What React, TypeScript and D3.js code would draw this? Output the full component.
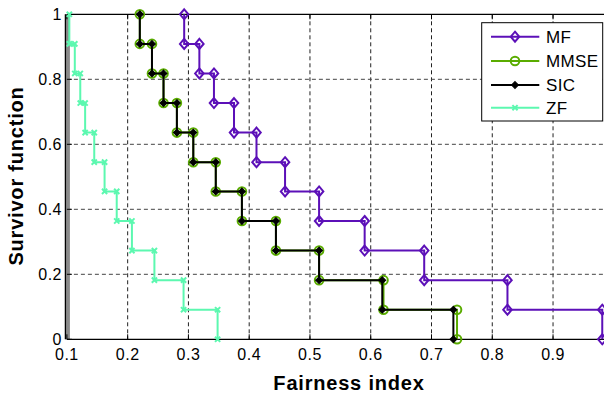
import React from "react";
import * as d3 from "d3";

const survivorLevels = [1, 0.909, 0.818, 0.727, 0.636, 0.545, 0.455, 0.364, 0.273, 0.182, 0.091, 0];
const mfX = [0.293, 0.318, 0.342, 0.375, 0.412, 0.459, 0.515, 0.590, 0.688, 0.825, 0.981];
const mmseX = [0.220, 0.240, 0.259, 0.281, 0.308, 0.345, 0.388, 0.444, 0.515, 0.621, 0.742];
const sicX = [0.220, 0.240, 0.259, 0.281, 0.308, 0.345, 0.388, 0.444, 0.515, 0.619, 0.736];
const zfX = [0.104, 0.113, 0.122, 0.130, 0.145, 0.162, 0.182, 0.207, 0.244, 0.292, 0.348];

const xTicks = [0.1, 0.2, 0.3, 0.4, 0.5, 0.6, 0.7, 0.8, 0.9];
const yTicks = [0, 0.2, 0.4, 0.6, 0.8, 1];
const xTickLabels = ["0.1", "0.2", "0.3", "0.4", "0.5", "0.6", "0.7", "0.8", "0.9"];
const yTickLabels = ["0", "0.2", "0.4", "0.6", "0.8", "1"];

const seriesNames = ["MF", "MMSE", "SIC", "ZF"];
const seriesColors = ["#5c10b8", "#5aac00", "#000000", "#5cf8b0"];
const seriesMarkers = ["diamond", "circle", "dot", "x"];
const seriesXs = [mfX, mmseX, sicX, zfX];

const W = 604, H = 396;
const x = d3.scaleLinear().domain([0.1, 1]).range([66.9, 613.8]);
const y = d3.scaleLinear().domain([0, 1]).range([339.3, 14.3]);

function stepPoints(xs: number[]): [number, number][] {
  const pts: [number, number][] = [];
  xs.forEach((v, i) => {
    pts.push([v, survivorLevels[i]]);
    pts.push([v, survivorLevels[i + 1]]);
  });
  return pts;
}

function Marker({ kind, cx, cy, color }: { kind: string; cx: number; cy: number; color: string }) {
  if (kind === "diamond") {
    const r = 5;
    return <path d={`M${cx},${cy - r}L${cx + r * 0.85},${cy}L${cx},${cy + r}L${cx - r * 0.85},${cy}Z`} fill="none" stroke={color} strokeWidth={2} />;
  }
  if (kind === "circle") {
    return <circle cx={cx} cy={cy} r={4.3} fill="none" stroke={color} strokeWidth={2} />;
  }
  if (kind === "dot") {
    const r = 3.3;
    return <path d={`M${cx},${cy - r}L${cx + r},${cy}L${cx},${cy + r}L${cx - r},${cy}Z`} fill={color} stroke={color} strokeWidth={1.2} />;
  }
  const r = 2.6;
  return <path d={`M${cx - r},${cy - r}L${cx + r},${cy + r}M${cx - r},${cy + r}L${cx + r},${cy - r}`} stroke={color} strokeWidth={2} />;
}

export default function App() {
  const line = d3.line<[number, number]>().x(d => x(d[0])).y(d => y(d[1]));
  const left = x(0.1), bottom = y(0), top = y(1);
  const right = W;
  const legX = 481.7, legY = 22.7, legW = 121, legH = 98.3;
  const legRows = [36.7, 61, 85, 107.7];
  return (
    <svg width={W} height={H} style={{ position: "absolute", left: 0, top: 0, background: "#fff" }}
      fontFamily="'Liberation Sans', Arial, sans-serif">
      <rect x={0} y={0} width={W} height={H} fill="#fff" />
      {/* grid */}
      {xTicks.slice(1).map(t => (
        <line key={"gx" + t} x1={x(t)} x2={x(t)} y1={top} y2={bottom} stroke="#222" strokeWidth={1} strokeDasharray="4,3" />
      ))}
      {yTicks.slice(1, -1).map(t => (
        <line key={"gy" + t} x1={left} x2={right} y1={y(t)} y2={y(t)} stroke="#444" strokeWidth={1} strokeDasharray="4,3" />
      ))}
      {/* left gray band */}
      <rect x={left - 1.5} y={top} width={4.5} height={bottom - top} fill="#8a8a8a" />
      {/* axes box */}
      <line x1={left} x2={right} y1={top} y2={top} stroke="#000" strokeWidth={1.3} />
      <line x1={left} x2={right} y1={bottom} y2={bottom} stroke="#000" strokeWidth={1.3} />
      <line x1={left - 1.5} x2={left - 1.5} y1={top} y2={bottom} stroke="#000" strokeWidth={1.3} />
      {xTicks.map(t => (
        <g key={"tx" + t}>
          <line x1={x(t)} x2={x(t)} y1={bottom} y2={bottom - 5} stroke="#000" strokeWidth={1} />
          <line x1={x(t)} x2={x(t)} y1={top} y2={top + 5} stroke="#000" strokeWidth={1} />
        </g>
      ))}
      {yTicks.map(t => (
        <line key={"ty" + t} x1={left} x2={left + 5} y1={y(t)} y2={y(t)} stroke="#000" strokeWidth={1} />
      ))}
      {xTicks.map((t, i) => (
        <text key={"lx" + t} x={x(t)} y={bottom + 21} textAnchor="middle" fontSize={16} letterSpacing={0.5} fill="#000">{xTickLabels[i]}</text>
      ))}
      {yTicks.map((t, i) => (
        <text key={"ly" + t} x={62} y={y(t) + 6} textAnchor="end" fontSize={16} letterSpacing={0.5} fill="#000">{yTickLabels[i]}</text>
      ))}
      <text x={349} y={390} textAnchor="middle" fontSize={20} fontWeight="bold" letterSpacing={0.8} fill="#000">Fairness index</text>
      <text transform={`translate(23,176) rotate(-90)`} textAnchor="middle" fontSize={20} fontWeight="bold" letterSpacing={0.8} fill="#000">Survivor function</text>
      {/* series */}
      {seriesXs.map((xs, si) => {
        const pts = stepPoints(xs);
        return (
          <g key={"s" + si}>
            <path d={line(pts) || ""} fill="none" stroke={seriesColors[si]} strokeWidth={2} />
            {pts.map((p, pi) => (
              <Marker key={pi} kind={seriesMarkers[si]} cx={x(p[0])} cy={y(p[1])} color={seriesColors[si]} />
            ))}
          </g>
        );
      })}
      {/* legend */}
      <rect x={legX} y={legY} width={legW} height={legH} fill="#fff" stroke="#000" strokeWidth={1} />
      {seriesNames.map((n, i) => (
        <g key={"lg" + n}>
          <line x1={491} x2={539.3} y1={legRows[i]} y2={legRows[i]} stroke={seriesColors[i]} strokeWidth={2} />
          <Marker kind={seriesMarkers[i]} cx={515} cy={legRows[i]} color={seriesColors[i]} />
          <text x={546} y={legRows[i] + 6} fontSize={17} letterSpacing={0.4} fill="#000">{n}</text>
        </g>
      ))}
    </svg>
  );
}
